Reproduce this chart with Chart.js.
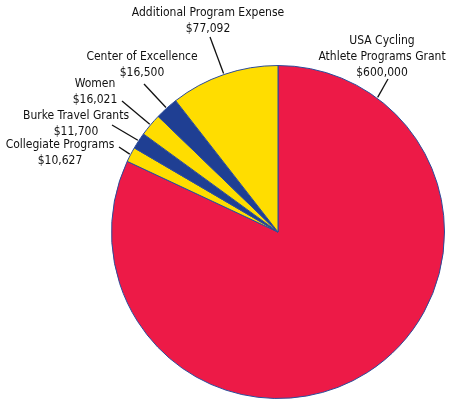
<!DOCTYPE html>
<html>
<head>
<meta charset="utf-8">
<script src="https://cdn.jsdelivr.net/npm/chart.js@4"></script>
<style>
  html, body { margin: 0; padding: 0; background: #fff; }
  #wrap { width: 459px; height: 401px; position: relative; }
</style>
</head>
<body>
<div id="wrap"><canvas id="myChart"></canvas></div>
<script>
// data
const labels = ['USA Cycling|Athlete Programs Grant', 'Collegiate Programs', 'Burke Travel Grants',
                'Women', 'Center of Excellence', 'Additional Program Expense']
const values = [600000, 10627, 11700, 16021, 16500, 77092]
const colors = ['#ED1A47', '#FFDD00', '#1F3F93', '#FFDD00', '#1F3F93', '#FFDD00']

// where each label sits (text anchor x, y of first line), leader start, and optional edge angle (deg)
const labelPos = [
    {x: 382, y: 41, lx: 388, ly: 79, ang: -53.5},
    {x: 60, y: 145, lx: 119, ly: 147},
    {x: 76, y: 116, lx: 112, ly: 125},
    {x: 95, y: 84, lx: 122, ly: 101},
    {x: 142, y: 57, lx: 144, ly: 84},
    {x: 208, y: 13, lx: 210, ly: 37}
]

const fmt = v => '$' + v.toLocaleString('en-US')

const leaderLabels = {
    id: 'leaderLabels',
    afterDraw(chart) {
        const c = chart.ctx
        const arcs = chart.getDatasetMeta(0).data
        c.save()
        c.font = '12px "Liberation Sans Narrow", "DejaVu Sans Condensed", sans-serif'
        c.fillStyle = '#111'
        c.textAlign = 'center'
        c.textBaseline = 'middle'
        arcs.forEach((arc, i) => {
            const p = labelPos[i]
            const lines = labels[i].split('|').concat(fmt(values[i]))
            lines.forEach((t, k) => c.fillText(t, p.x, p.y + k * 16))
            const mid = p.ang !== undefined ? p.ang * Math.PI / 180 : (arc.startAngle + arc.endAngle) / 2
            const r = arc.outerRadius
            const ex = arc.x + Math.cos(mid) * (r + 1)
            const ey = arc.y + Math.sin(mid) * (r + 1)
            c.beginPath()
            c.moveTo(p.lx, p.ly)
            c.lineTo(ex, ey)
            c.strokeStyle = '#111'
            c.lineWidth = 1.3
            c.stroke()
        })
        c.restore()
    }
}

new Chart(document.getElementById('myChart'), {
    type: 'pie',
    data: {
        labels: labels,
        datasets: [{
            data: values,
            backgroundColor: colors,
            borderColor: '#2B4C9B',
            borderWidth: 1
        }]
    },
    options: {
        responsive: true,
        maintainAspectRatio: false,
        animation: false,
        layout: { padding: { left: 111, right: 14, top: 65, bottom: 2 } },
        plugins: {
            legend: { display: false },
            tooltip: { enabled: false }
        }
    },
    plugins: [leaderLabels]
})
</script>
</body>
</html>
